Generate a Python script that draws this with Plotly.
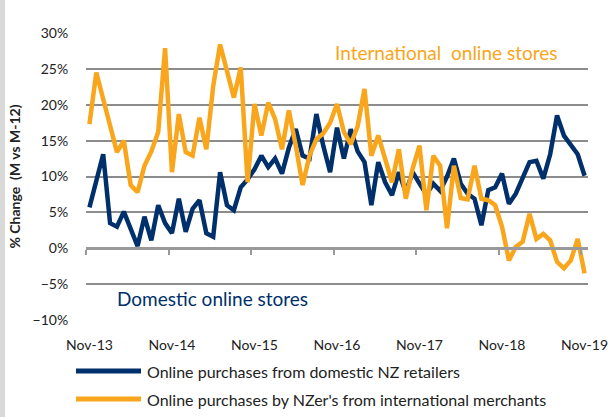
import plotly.graph_objects as go

# ---- data ----
tick_labels = ["Nov-13", "Nov-14", "Nov-15", "Nov-16", "Nov-17", "Nov-18", "Nov-19"]

domestic = [5.7, 9.5, 13.1, 3.5, 3.0, 5.1, 2.7, 0.3, 4.4, 1.1,
            6.0, 3.5, 2.1, 6.9, 2.3, 5.5, 6.7, 2.1, 1.6, 10.6,
            6.0, 5.3, 8.5, 9.6, 11.0, 12.9, 11.3, 12.5, 10.4, 14.0,
            16.6, 12.9, 12.5, 18.7, 14.3, 10.6, 16.8, 12.5, 16.6, 13.5,
            12.0, 6.0, 12.0, 9.2, 7.4, 10.6, 7.8, 10.6, 9.0, 7.5,
            9.0, 8.0, 10.0, 12.5, 9.0, 7.6, 6.9, 3.2, 8.1, 8.5,
            10.4, 6.2, 7.6, 10.0, 12.0, 12.2, 9.7, 13.1, 18.5, 15.7,
            14.5, 13.1, 10.1]

international = [17.3, 24.5, 20.8, 17.0, 13.4, 15.0, 8.8, 7.8, 11.5, 13.5,
                 16.2, 27.9, 10.6, 18.7, 13.4, 12.9, 18.2, 13.8, 22.6, 28.4,
                 24.7, 21.0, 25.2, 9.2, 20.1, 15.7, 20.3, 18.0, 13.8, 19.2,
                 14.3, 8.8, 12.9, 15.2, 16.0, 17.5, 20.1, 16.2, 14.5, 17.0,
                 22.2, 12.9, 15.7, 12.5, 9.2, 13.8, 6.9, 11.1, 14.3, 5.3,
                 12.9, 11.5, 2.8, 11.5, 7.0, 6.8, 11.5, 6.9, 6.7, 6.0,
                 3.0, -1.7, 0.2, 0.9, 4.8, 1.3, 2.0, 1.1, -1.9, -2.8,
                 -1.7, 1.3, -3.5]

series_names = ["Online purchases from domestic NZ retailers",
                "Online purchases by NZer's from international merchants"]

NAVY = "#00306B"
ORANGE = "#F9A61C"
GRID = "#8C8C8C"
FONT = "Lato, Open Sans, sans-serif"

months = list(range(len(domestic)))
label_pos = months[::12]
boundary_pos = [m - 0.5 for m in months[::12]]

W, H = 614, 417
L, R, T, B = 86, 26, 33, 97
PW, PH = W - L - R, H - T - B


def px(xp):
    return (xp - L) / PW


def py(yp):
    return (H - B - yp) / PH


fig = go.Figure()
fig.add_trace(go.Scatter(x=months, y=domestic, mode="lines", name=series_names[0],
                         line=dict(color=NAVY, width=4.5), showlegend=False))
fig.add_trace(go.Scatter(x=months, y=international, mode="lines", name=series_names[1],
                         line=dict(color=ORANGE, width=4.5), showlegend=False))
# invisible trace to activate the tick-only axis
fig.add_trace(go.Scatter(x=[months[0]], y=[0], xaxis="x2", mode="none",
                         showlegend=False, hoverinfo="skip"))

fig.update_layout(
    width=W, height=H,
    margin=dict(l=L, r=R, t=T, b=B, autoexpand=False),
    paper_bgcolor="white", plot_bgcolor="white",
    font=dict(family=FONT, color="#222222"),
    xaxis=dict(range=[-0.5, len(months) - 0.5], tickvals=label_pos, ticktext=tick_labels,
               showgrid=False, zeroline=False, showline=False, automargin=False,
               ticks="outside", ticklen=12, tickcolor="rgba(0,0,0,0)",
               tickfont=dict(size=14, color="#222222")),
    xaxis2=dict(overlaying="x", anchor="free", position=0.25, automargin=False,
                range=[-0.5, len(months) - 0.5], tickvals=boundary_pos,
                showticklabels=False, ticks="outside", ticklen=5, tickwidth=2,
                tickcolor="#999999", showline=True, linecolor="#999999", linewidth=3,
                showgrid=False, zeroline=False),
    yaxis=dict(range=[-10, 30], dtick=5, ticksuffix="%", showgrid=True, automargin=False,
               gridcolor=GRID, gridwidth=2, zeroline=False, showline=False,
               ticks="outside", ticklen=14, tickcolor="rgba(0,0,0,0)",
               tickfont=dict(size=14, color="#222222"),
               title=dict(text="<b>% Change  (M vs M-12)</b>",
                          font=dict(size=14, color="#222222"), standoff=8)),
)

# series annotations
fig.add_annotation(x=px(446), y=py(52), xref="paper", yref="paper",
                   xanchor="center", yanchor="middle",
                   text="International  online stores", showarrow=False,
                   font=dict(size=19, color=ORANGE, family=FONT))
fig.add_annotation(x=px(212), y=py(298), xref="paper", yref="paper",
                   xanchor="center", yanchor="middle",
                   text="Domestic online stores", showarrow=False,
                   font=dict(size=19, color=NAVY, family=FONT))

# custom legend
for name, color, yline in [(series_names[0], NAVY, 371), (series_names[1], ORANGE, 399)]:
    fig.add_shape(type="line", xref="paper", yref="paper",
                  x0=px(76), x1=px(141), y0=py(yline), y1=py(yline),
                  line=dict(color=color, width=5))
    fig.add_annotation(x=px(145), y=py(yline), xref="paper", yref="paper",
                       xanchor="left", yanchor="middle",
                       text=name, showarrow=False,
                       font=dict(size=16, color="#222222", family=FONT))

# left border strip
fig.add_shape(type="rect", xref="paper", yref="paper",
              x0=px(0), x1=px(5), y0=py(H), y1=py(0),
              fillcolor="#D9D9D9", line=dict(width=0), layer="below")

fig.write_html("out.html", config={"displayModeBar": False},
               post_script="document.body.style.margin='0px';")
